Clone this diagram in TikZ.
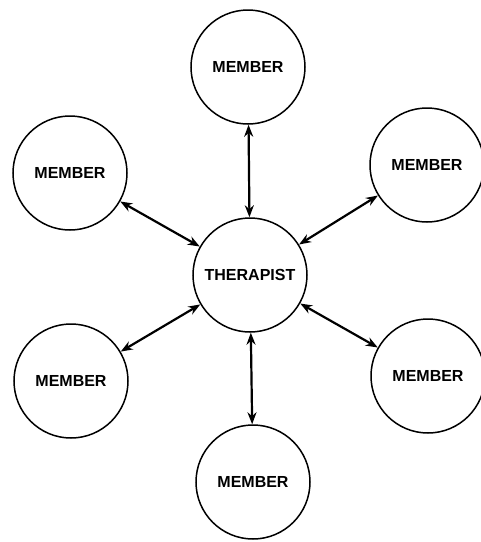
\documentclass[tikz,border=0pt]{standalone}
\usepackage{fontspec}
\setmainfont{Liberation Sans}
\usetikzlibrary{arrows.meta}
\begin{document}
\begin{tikzpicture}[x=1pt,y=-1pt,>={Stealth[length=12pt,width=9pt]},
	person/.style={draw,circle,line width=1.5pt,minimum size=114pt,inner sep=0pt,
		font=\fontsize{16}{19}\selectfont\bfseries},
	link/.style={<->,line width=2.2pt}]
	\useasboundingbox (0,0) rectangle (481,542);
	
	% kozepso kor
	\node[person] (therapist) at (250,275) {THERAPIST};
	
	% tagok
	\node[person] (mtop) at (248,67) {MEMBER};
	\node[person] (mul) at (70,173) {MEMBER};
	\node[person] (mur) at (427,165) {MEMBER};
	\node[person] (mll) at (71,381) {MEMBER};
	\node[person] (mlr) at (428,376) {MEMBER};
	\node[person] (mbot) at (253,482) {MEMBER};
	
	% nyilak
	\foreach \m in {mtop,mul,mur,mll,mlr,mbot}
		\draw[link] (therapist) -- (\m);
\end{tikzpicture}
\end{document}
